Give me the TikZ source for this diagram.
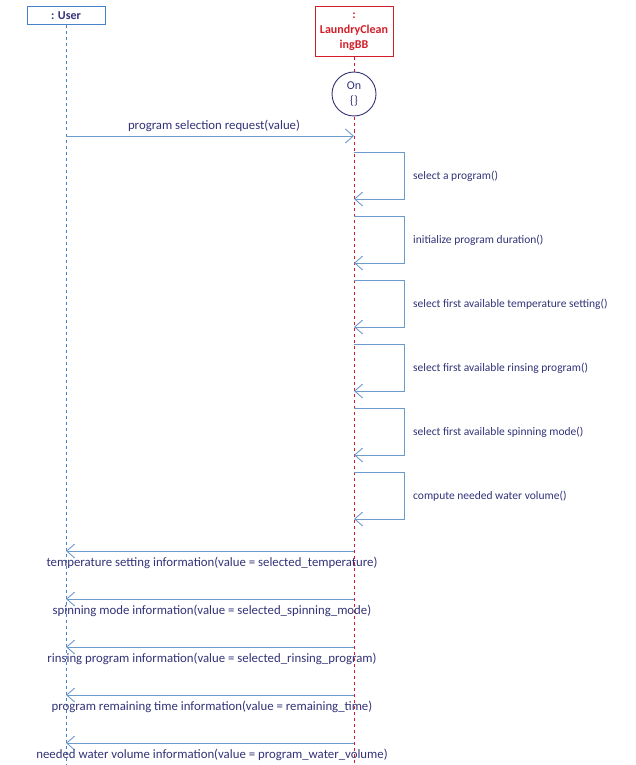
\documentclass[tikz,border=0pt]{standalone}
\usepackage{fontspec}
\setmainfont{Carlito}
\usetikzlibrary{arrows.meta}
\definecolor{txt}{RGB}{50,50,120}
\definecolor{arr}{RGB}{110,155,205}
\definecolor{life}{RGB}{70,130,200}
\definecolor{redc}{RGB}{210,30,40}
\tikzset{
  msg/.style={draw=arr,line width=0.9pt,-{Straight Barb[length=8pt,width=14pt]}},
  lbl/.style={text=txt,font=\fontsize{11.5pt}{13pt}\selectfont,inner sep=0pt},
  rlbl/.style={text=txt,font=\fontsize{12.8pt}{14pt}\selectfont,inner sep=0pt},
  x=1pt,y=-1pt
}
\begin{document}
\begin{tikzpicture}
\useasboundingbox (0,0) rectangle (636,765);
\node[draw=life,line width=1pt,minimum width=78pt,minimum height=18pt,inner sep=0pt,text=txt,font=\bfseries\fontsize{12pt}{13pt}\selectfont] (user) at (66,16) {: User};
\node[draw=redc,line width=1pt,minimum width=78pt,minimum height=50pt,inner sep=0pt,align=center,text=redc,font=\bfseries\fontsize{12pt}{15pt}\selectfont] (lcb) at (354,32) {:\\LaundryClean\\ingBB};
\coordinate (uend) at (66,765);
\coordinate (lend) at (354,765);
\draw[life,dashed,line width=0.9pt] (user.south) -- (uend);
\draw[redc,dashed,line width=0.9pt] (lcb.south) -- (lend);
\node[circle,draw=txt,line width=0.9pt,fill=white,minimum size=44pt,inner sep=0pt,align=center,text=txt,font=\fontsize{12pt}{15pt}\selectfont] (on) at (354,94) {On\\\{\}};
\coordinate (m0a) at (66,136); \coordinate (m0b) at (354,136);
\draw[msg] (m0a) -- (m0b);
\node[rlbl] (l0) at (214,126) {program selection request(value)};
\foreach \y/\t [count=\i] in {152/select a program(),216/initialize program duration(),280/select first available temperature setting(),344/select first available rinsing program(),408/select first available spinning mode(),472/compute needed water volume()}{
  \coordinate (s\i a) at (354,\y);
  \coordinate (s\i b) at (354,\y+47);
  \draw[msg] (s\i a) -- ++(50,0) |- (s\i b);
  \node[lbl,anchor=west] (sl\i) at (413,\y+24) {\t};
}
\foreach \y/\t [count=\i] in {551/temperature setting information(value = selected\_temperature),599/spinning mode information(value = selected\_spinning\_mode),647/rinsing program information(value = selected\_rinsing\_program),695/program remaining time information(value = remaining\_time),743/needed water volume information(value = program\_water\_volume)}{
  \coordinate (r\i a) at (354,\y);
  \coordinate (r\i b) at (66,\y);
  \draw[msg] (r\i a) -- (r\i b);
  \node[rlbl] (rl\i) at (212,\y+12) {\t};
}
\end{tikzpicture}
\end{document}
